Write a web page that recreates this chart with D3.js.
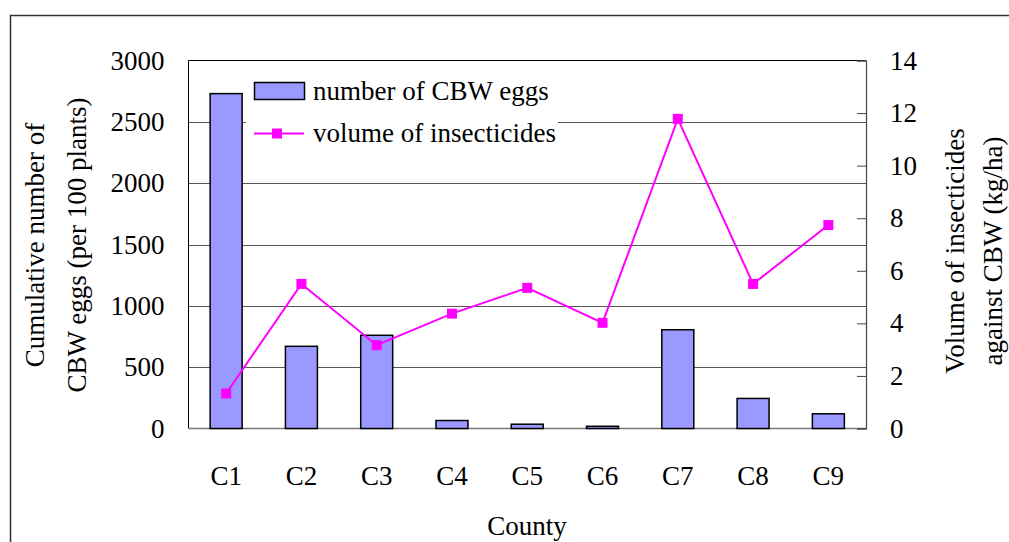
<!DOCTYPE html>
<html>
	<head>
		<meta charset="utf-8">
		<title>CBW eggs and insecticides</title>
		<style>
			body { margin: 0; background: #fff; }
			svg text { font-family: "Liberation Serif", "Times New Roman", serif !important; fill: #000; font-size: 27px; }
			.bar { fill: #9999ff; stroke: #000; stroke-width: 1.5px; }
			.grid { stroke: #555; stroke-width: 1px; shape-rendering: crispEdges; }
			.vol { fill: none; stroke: #ff00ff; stroke-width: 2px; }
			.marker { fill: #ff00ff; }
		</style>
	</head>
	<body>
		<svg class="chart"></svg>
		<script src="https://d3js.org/d3.v7.min.js"></script>
		<script>
			// data
			var counties = ["C1", "C2", "C3", "C4", "C5", "C6", "C7", "C8", "C9"];
			var eggs = [2730, 670, 760, 65, 35, 18, 805, 245, 120];
			var insecticides = [1.33, 5.5, 3.17, 4.37, 5.35, 4.02, 11.78, 5.5, 7.74];
			var eggTicks = [0, 500, 1000, 1500, 2000, 2500, 3000];
			var volTicks = [0, 2, 4, 6, 8, 10, 12, 14];

			var width = 1009, height = 542;
			var plot = {left: 188.5, right: 866, top: 60.5, bottom: 428.5};

			var svg = d3.select(".chart")
				.attr("width", width)
				.attr("height", height);

			// outer frame (runs off right and bottom edges)
			svg.append("rect")
				.attr("x", 10.5).attr("y", 15.5)
				.attr("width", 1010).attr("height", 540)
				.attr("fill", "none")
				.attr("stroke", "#333")
				.attr("stroke-width", 1.5);

			var x = d3.scaleBand()
				.domain(counties)
				.range([plot.left, plot.right])
				.paddingInner(0.575)
				.paddingOuter(0.2875);
			var yL = d3.scaleLinear().domain([0, 3000]).range([plot.bottom, plot.top]);
			var yR = d3.scaleLinear().domain([0, 14]).range([plot.bottom, plot.top]);

			// Gridlines
			svg.append("g")
				.selectAll("line")
				.data(eggTicks.slice(1, -1))
				.enter()
				.append("line")
					.classed("grid", true)
					.attr("x1", plot.left).attr("x2", plot.right)
					.attr("y1", function(d) {return Math.round(yL(d)) + 0.5;})
					.attr("y2", function(d) {return Math.round(yL(d)) + 0.5;});

			// plot border
			svg.append("line").attr("x1", plot.left).attr("x2", plot.right)
				.attr("y1", plot.top).attr("y2", plot.top).attr("stroke", "#000");
			svg.append("line").attr("x1", plot.left).attr("x2", plot.left)
				.attr("y1", plot.top).attr("y2", plot.bottom).attr("stroke", "#000");
			svg.append("line").attr("x1", plot.left).attr("x2", plot.right)
				.attr("y1", plot.bottom).attr("y2", plot.bottom).attr("stroke", "#777").attr("stroke-width", 1.5);

			// Legend backing (hides gridline behind it)
			var legend = svg.append("g");
			legend.append("rect")
				.attr("x", 246).attr("y", 72)
				.attr("width", 312).attr("height", 78)
				.attr("fill", "#fff");

			// Bars
			svg.append("g")
				.selectAll("rect.bar")
				.data(eggs)
				.enter()
				.append("rect")
					.classed("bar", true)
					.attr("x", function(d, i) {return x(counties[i]);})
					.attr("width", x.bandwidth())
					.attr("y", function(d) {return yL(d);})
					.attr("height", function(d) {return yL(0) - yL(d);});

			// Line + markers
			var cx = function(d, i) {return x(counties[i]) + x.bandwidth() / 2;};
			var line = d3.line()
				.x(cx)
				.y(function(d) {return yR(d);});
			svg.append("path")
				.datum(insecticides)
				.classed("vol", true)
				.attr("d", line);
			svg.append("g")
				.selectAll("rect.marker")
				.data(insecticides)
				.enter()
				.append("rect")
					.classed("marker", true)
					.attr("x", function(d, i) {return cx(d, i) - 5;})
					.attr("y", function(d) {return yR(d) - 5;})
					.attr("width", 10).attr("height", 10);

			// Axes
			var leftAxis = svg.append("g")
				.attr("transform", "translate(" + plot.left + ",0)")
				.call(d3.axisLeft(yL).tickValues(eggTicks).tickFormat(d3.format("d")).tickSize(0).tickPadding(24));
			leftAxis.select(".domain").remove();
			leftAxis.attr("font-family", null).attr("font-size", null);

			var rightAxis = svg.append("g")
				.attr("transform", "translate(" + plot.right + ",0)")
				.call(d3.axisRight(yR).tickValues(volTicks).tickSize(-9).tickPadding(24));
			rightAxis.select(".domain").attr("stroke", "#444").attr("stroke-width", 1.2);
			rightAxis.selectAll(".tick line").attr("stroke", "#444");
			rightAxis.attr("font-family", null).attr("font-size", null);

			var bottomAxis = svg.append("g")
				.attr("transform", "translate(0," + plot.bottom + ")")
				.call(d3.axisBottom(x).tickSize(0).tickPadding(37));
			bottomAxis.select(".domain").remove();
			bottomAxis.attr("font-family", null).attr("font-size", null);

			// Axis titles
			svg.append("text")
				.attr("transform", "translate(527,535)")
				.attr("text-anchor", "middle")
				.text("County");

			var lt = svg.append("text")
				.attr("transform", "translate(0,245) rotate(-90)")
				.attr("text-anchor", "middle");
			lt.append("tspan").attr("x", 0).attr("y", 44).text("Cumulative number of");
			lt.append("tspan").attr("x", 0).attr("y", 86).text("CBW eggs (per 100 plants)");

			var rt = svg.append("text")
				.attr("transform", "translate(0,251) rotate(-90)")
				.attr("text-anchor", "middle");
			rt.append("tspan").attr("x", 0).attr("y", 964).text("Volume of insecticides");
			rt.append("tspan").attr("x", 0).attr("y", 1002).text("against CBW (kg/ha)");

			// Legend
			legend.append("rect")
				.attr("x", 254.5).attr("y", 82.5)
				.attr("width", 50).attr("height", 17)
				.attr("fill", "#9999ff").attr("stroke", "#000").attr("stroke-width", 1.5);
			legend.append("text")
				.attr("x", 313).attr("y", 100)
				.text("number of CBW eggs");
			legend.append("line")
				.attr("x1", 254).attr("x2", 304)
				.attr("y1", 133.5).attr("y2", 133.5)
				.attr("stroke", "#ff00ff").attr("stroke-width", 2);
			legend.append("rect")
				.attr("x", 272).attr("y", 128.5)
				.attr("width", 10).attr("height", 10)
				.attr("fill", "#ff00ff");
			legend.append("text")
				.attr("x", 313).attr("y", 142)
				.text("volume of insecticides");
		</script>
	</body>
</html>
